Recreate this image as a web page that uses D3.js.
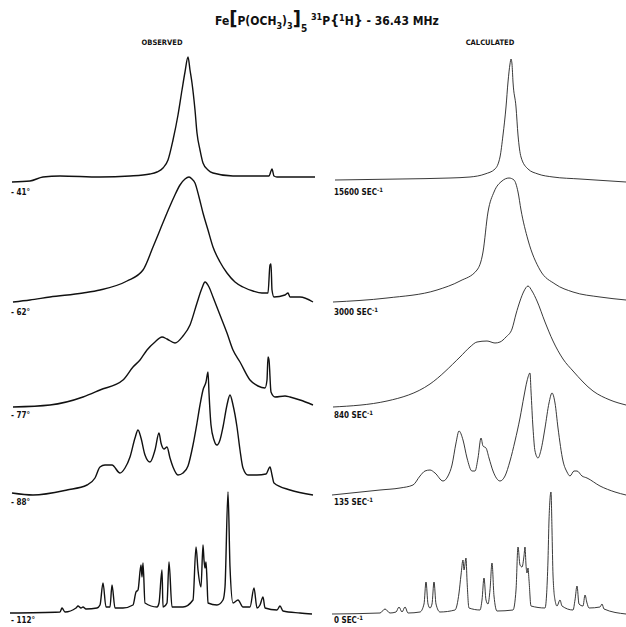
<!DOCTYPE html>
<html>
<head>
<meta charset="utf-8">
<script src="https://cdn.jsdelivr.net/npm/d3@7"></script>
<style>
  html, body { margin: 0; padding: 0; background: #fff; }
  svg { display: block; }
  .lbl { font-family: "DejaVu Sans Condensed", "DejaVu Sans", sans-serif; font-weight: bold; fill: #111; }
</style>
</head>
<body>
<div id="chart"></div>
<script>
// Spectra: [shift, intensity] pairs, shift in chart units across a panel (0-300),
// intensity above each trace's own baseline.

// --- observed (left) ---
var obs41 = [[2,0],[20,1],[33,5],[50,6],[90,5],[120,6],[140,8],[147,10],[153,14],[158,22],[163,42],[168,67],[172,92],[175,110],[178,125],[180,112],[182,99],[185,72],[187,49],[190,32],[193,19],[198,12],[203,9],[223,6],[245,6],[259,6],[261,11],[262,13],[264,6],[267,5],[285,5],[305,5]];
var obs62 = [[3,0],[20,2],[40,5],[73,9],[90,12],[117,21],[133,32],[143,55],[150,72],[157,89],[164,105],[170,117],[175,123],[179,125],[182,123],[185,119],[189,105],[193,89],[198,72],[203,55],[210,40],[217,29],[225,20],[233,15],[243,11],[252,9],[258,9],[260,37],[261,38],[262,12],[264,5],[275,7],[278,9],[280,5],[290,5],[303,0]];
var obs77 = [[3,0],[40,2],[73,10],[90,17],[113,27],[123,40],[130,47],[137,57],[145,65],[152,70],[157,68],[165,64],[173,71],[180,82],[187,104],[192,119],[195,125],[199,120],[203,110],[210,92],[217,74],[223,57],[230,45],[240,27],[248,21],[255,19],[257,27],[258,50],[259,47],[261,15],[265,10],[275,11],[280,10],[290,7],[303,2]];
var obs88 = [[2,2],[23,0],[57,5],[77,10],[85,17],[90,28],[95,30],[102,30],[110,22],[115,27],[120,38],[125,57],[128,65],[131,57],[135,40],[140,33],[145,45],[149,62],[151,52],[154,46],[157,48],[160,37],[163,28],[168,20],[173,22],[178,29],[183,50],[187,72],[190,90],[193,105],[196,113],[198,123],[199,102],[201,70],[204,55],[207,50],[210,55],[213,68],[217,90],[220,100],[223,90],[227,68],[230,45],[233,27],[238,20],[247,20],[256,21],[260,28],[262,20],[264,12],[280,5],[303,0]];
var obs112 = [[0,1],[50,2],[52,6],[55,2],[66,6],[68,8],[71,6],[73,7],[76,5],[87,6],[90,9],[93,31],[96,7],[100,7],[102,29],[105,6],[113,6],[123,9],[126,22],[128,24],[131,49],[132,37],[133,51],[135,11],[147,7],[149,11],[152,44],[153,7],[157,11],[159,52],[162,7],[173,7],[183,14],[186,67],[188,44],[191,27],[193,69],[194,54],[195,46],[196,52],[197,34],[198,11],[207,9],[213,14],[215,27],[218,122],[220,47],[223,11],[228,14],[233,7],[240,7],[244,26],[247,6],[250,9],[253,17],[255,6],[267,4],[270,8],[273,3],[290,1],[302,0]];

// --- calculated (right) ---
var calc15600 = [[3,2],[68,3],[118,4],[138,5],[153,8],[163,13],[168,25],[171,47],[174,75],[176,100],[178,118],[179,123],[180,118],[181,100],[184,75],[186,47],[189,25],[196,13],[206,8],[221,5],[248,3],[294,0]];
var calc3000 = [[1,0],[55,4],[105,12],[128,21],[145,32],[151,50],[156,90],[162,110],[170,121],[177,124],[182,122],[186,110],[189,92],[196,62],[208,32],[223,18],[241,10],[268,5],[294,2]];
var calc840 = [[1,0],[55,6],[98,23],[128,50],[138,60],[145,65],[155,66],[163,64],[168,65],[174,70],[180,78],[184,93],[188,106],[192,116],[196,121],[200,116],[205,106],[213,85],[221,66],[231,48],[241,36],[261,16],[278,7],[294,2]];
var calc135 = [[0,0],[48,5],[68,7],[81,10],[88,19],[93,24],[98,25],[103,22],[111,14],[116,19],[120,30],[124,52],[127,64],[131,55],[135,37],[140,24],[143,24],[146,37],[149,57],[151,49],[154,47],[157,37],[161,24],[168,14],[173,19],[178,34],[183,54],[188,77],[192,99],[195,114],[198,122],[199,104],[201,67],[203,44],[206,37],[209,45],[213,67],[217,92],[220,102],[223,92],[226,67],[231,34],[235,23],[238,19],[242,24],[245,24],[250,19],[255,17],[268,9],[283,3],[294,0]];
var calc0 = [[0,0],[48,1],[53,5],[58,1],[64,2],[67,7],[70,2],[73,7],[76,1],[88,2],[92,10],[94,32],[96,10],[98,6],[100,10],[102,32],[104,10],[108,2],[123,4],[127,21],[129,39],[131,54],[132,44],[134,56],[135,34],[137,6],[148,4],[150,14],[152,36],[154,14],[156,10],[158,24],[160,51],[162,18],[165,3],[181,4],[184,24],[186,67],[188,49],[190,47],[192,58],[193,67],[194,49],[195,41],[196,46],[197,34],[199,8],[213,6],[216,54],[217,94],[219,122],[220,84],[221,39],[223,14],[225,8],[228,14],[230,8],[241,4],[243,14],[245,28],[247,10],[251,8],[253,19],[255,11],[257,6],[268,7],[270,10],[272,5],[294,0]];

var obsLabels = ['- 41°', '- 62°', '- 77°', '- 88°', '- 112°'];
var calcRates = ['15600', '3000', '840', '135', '0'];

(function () {
    'use strict';

    var W = 626, H = 627;
    var svg = d3.select('#chart').append('svg')
        .attr('width', W).attr('height', H)
        .attr('viewBox', [0, 0, W, H]);

    // trace baselines (px) and label rows
    var baselines = [182, 302, 407, 495, 614];
    var labelY = [195, 315, 418, 505, 623];

    var xLeft = d3.scaleLinear().domain([0, 300]).range([10, 310]);
    var xRight = d3.scaleLinear().domain([0, 300]).range([332, 632]);

    var panels = [
        { x: xLeft, series: [obs41, obs62, obs77, obs88, obs112], width: 1.4, color: '#111' },
        { x: xRight, series: [calc15600, calc3000, calc840, calc135, calc0], width: 0.9, color: '#222' }
    ];

    panels.forEach(function (p) {
        p.series.forEach(function (data, i) {
            var y = d3.scaleLinear().domain([0, 125]).range([baselines[i], baselines[i] - 125]);
            var line = d3.line()
                .x(function (d) { return p.x(d[0]); })
                .y(function (d) { return y(d[1]); })
                .curve(d3.curveMonotoneX);
            svg.append('path')
                .datum(data)
                .attr('d', line)
                .attr('fill', 'none')
                .attr('stroke', p.color)
                .attr('stroke-width', p.width)
                .attr('stroke-linejoin', 'round');
        });
    });

    // trace labels
    obsLabels.forEach(function (t, i) {
        svg.append('text').attr('class', 'lbl')
            .attr('x', 11).attr('y', labelY[i])
            .attr('font-size', 8)
            .text(t);
    });
    calcRates.forEach(function (r, i) {
        var t = svg.append('text').attr('class', 'lbl')
            .attr('x', 334).attr('y', labelY[i])
            .attr('font-size', 8);
        t.append('tspan').text(r + '  SEC');
        t.append('tspan').attr('dy', -3).attr('font-size', 6).text('-1');
    });

    // column headings
    svg.append('text').attr('class', 'lbl')
        .attr('x', 162).attr('y', 45).attr('text-anchor', 'middle')
        .attr('font-size', 7.5).text('OBSERVED');
    svg.append('text').attr('class', 'lbl')
        .attr('x', 490).attr('y', 45).attr('text-anchor', 'middle')
        .attr('font-size', 7.5).text('CALCULATED');

    // title
    var title = svg.append('text').attr('class', 'lbl')
        .attr('x', 215).attr('y', 25)
        .attr('font-size', 12);
    var parts = [
        ['Fe', 0, 12], ['[', 0, 20], ['P(OCH', 0, 12], ['3', 4, 9], [')', -4, 12],
        ['3', 4, 9], [']', -4, 20], ['5', 7, 10], ['  ', -7, 12], ['31', -5, 9],
        ['P', 5, 12], ['{', 0, 14], ['1', -4, 9], ['H', 4, 12], ['}', 0, 14],
        ['  -  36.43  MHz', 0, 12]
    ];
    parts.forEach(function (p) {
        title.append('tspan').attr('dy', p[1]).attr('font-size', p[2]).text(p[0]);
    });
})();
</script>
</body>
</html>
